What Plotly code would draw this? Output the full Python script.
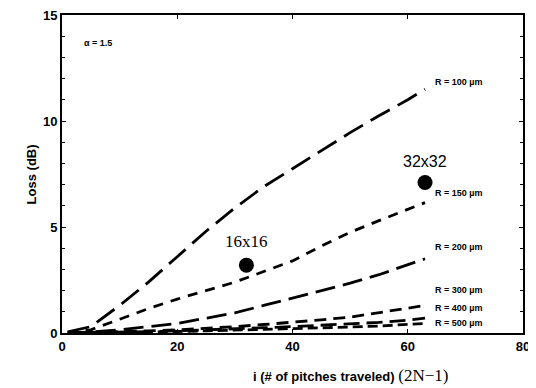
import plotly.graph_objects as go

# ---- data ----
x_pitches = [1, 5, 10, 15, 20, 25, 30, 35, 40, 45, 50, 55, 60, 63]
loss_r100 = [0.05, 0.3, 1.3, 2.4, 3.6, 4.8, 5.9, 6.9, 7.75, 8.6, 9.45, 10.25, 11.0, 11.5]
loss_r150 = [0.02, 0.15, 0.65, 1.15, 1.6, 2.0, 2.4, 2.9, 3.4, 4.1, 4.75, 5.3, 5.85, 6.15]
loss_r200 = [0.0, 0.05, 0.15, 0.3, 0.45, 0.7, 0.95, 1.3, 1.65, 2.0, 2.35, 2.75, 3.2, 3.5]
loss_r300 = [0.0, 0.02, 0.05, 0.1, 0.15, 0.22, 0.3, 0.4, 0.5, 0.62, 0.75, 0.95, 1.15, 1.3]
loss_r400 = [0.0, 0.01, 0.03, 0.06, 0.1, 0.14, 0.2, 0.25, 0.3, 0.36, 0.42, 0.5, 0.6, 0.7]
loss_r500 = [0.0, 0.01, 0.02, 0.04, 0.07, 0.1, 0.13, 0.17, 0.2, 0.24, 0.28, 0.33, 0.4, 0.45]
curve_labels = ["R = 100 µm", "R = 150 µm", "R = 200 µm", "R = 300 µm", "R = 400 µm", "R = 500 µm"]
label_y = [11.85, 6.6, 4.05, 2.05, 1.17, 0.45]

point_x = [32, 63]
point_y = [3.2, 7.1]
point_labels = ["16x16", "32x32"]

x_ticks = [0, 20, 40, 60, 80]
y_ticks = [0, 5, 10, 15]

curves = [loss_r100, loss_r150, loss_r200, loss_r300, loss_r400, loss_r500]
dashes = ["22px,9px", "10px,8px", "20px,8px", "12px,7px", "16px,7px", "10px,5px"]

fig = go.Figure()
for ys, d in zip(curves, dashes):
    fig.add_trace(go.Scatter(x=x_pitches, y=ys, mode="lines",
                             line=dict(color="black", width=2.8, dash=d),
                             showlegend=False, hoverinfo="skip"))

fig.add_trace(go.Scatter(x=point_x, y=point_y, mode="markers",
                         marker=dict(color="black", size=15),
                         showlegend=False))

for lab, ly in zip(curve_labels, label_y):
    fig.add_annotation(x=64.3, y=ly, text=f"<b>{lab}</b>", showarrow=False, xanchor="left",
                       font=dict(family="Liberation Sans", size=9, color="black"))

fig.add_annotation(x=point_x[0], y=point_y[0] + 1.1, text=point_labels[0], showarrow=False,
                   font=dict(family="Liberation Serif", size=17, color="black"))
fig.add_annotation(x=point_x[1], y=point_y[1] + 1.0, text=point_labels[1], showarrow=False,
                   font=dict(family="Liberation Sans", size=16, color="black"))

fig.add_annotation(x=3.5, y=13.7, text="<b>α = 1.5</b>", showarrow=False, xanchor="left",
                   font=dict(family="Liberation Sans", size=9, color="black"))

# axis titles
fig.add_annotation(xref="paper", yref="paper", x=0.625, y=-0.133, yanchor="middle",
                   text="<b>i (# of pitches traveled)</b> <span style='font-family:Liberation Serif;font-size:17px'>(2N−1)</span>",
                   showarrow=False, font=dict(family="Liberation Sans", size=13, color="black"))
fig.add_annotation(xref="paper", yref="paper", x=-0.087, y=0.5, textangle=-90,
                   text="<b>Loss (dB)</b>", showarrow=False,
                   font=dict(family="Liberation Sans", size=13, color="black"))

fig.update_layout(
    width=528, height=380,
    margin=dict(l=54, r=13, t=7, b=55),
    paper_bgcolor="white", plot_bgcolor="white",
    font=dict(family="Liberation Sans", color="black"),
)
fig.update_xaxes(range=[0, 80], tickvals=x_ticks, ticktext=[f"<b>{v}</b>" for v in x_ticks],
                 showgrid=False, zeroline=False, showline=True, linecolor="black", linewidth=2,
                 mirror="ticks", ticks="inside", ticklen=4, tickcolor="black", automargin=False,
                 ticklabeloverflow="allow", tickfont=dict(size=13))
fig.update_yaxes(range=[0, 15], tickvals=y_ticks, ticktext=[f"<b>{v}</b>" for v in y_ticks],
                 showgrid=False, zeroline=False, showline=True, linecolor="black", linewidth=2,
                 mirror="ticks", ticks="inside", ticklen=4, tickcolor="black", automargin=False,
                 ticklabeloverflow="allow",
                 minor=dict(ticks="inside", dtick=1, ticklen=3, tickcolor="black"),
                 tickfont=dict(size=13))

fig.write_html("out.html")
